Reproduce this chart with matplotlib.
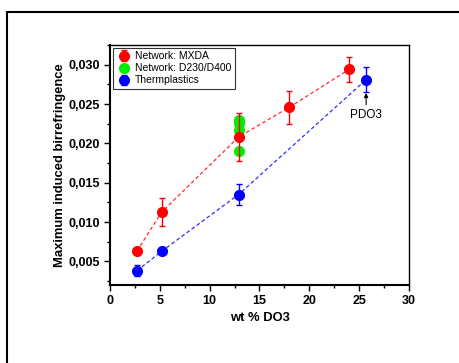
import matplotlib
matplotlib.use("Agg")
import matplotlib.pyplot as plt
from matplotlib.patches import Rectangle
from matplotlib.ticker import MultipleLocator, FuncFormatter

plt.rcParams["font.family"] = ["Liberation Sans", "DejaVu Sans"]

# Network: MXDA
mxda_x = [2.7, 5.2, 12.9, 18.0, 24.0]
mxda_y = [0.0063, 0.0113, 0.0208, 0.0246, 0.0294]
mxda_err = [0.0, 0.0018, 0.0030, 0.0021, 0.0016]

# Network: D230/D400
d230_x = [12.9, 12.9, 12.9, 12.9]
d230_y = [0.0230, 0.0226, 0.0217, 0.0190]

# Thermoplastics
termo_x = [2.7, 5.2, 12.9, 25.7]
termo_y = [0.0038, 0.0063, 0.0135, 0.0281]
termo_err = [0.0007, 0.0, 0.0013, 0.0016]

fig = plt.figure(figsize=(4.59, 3.63), dpi=100)
ax = fig.add_axes([0.2397, 0.2149, 0.6513, 0.6611])

# moldura externa
fig.patches.append(Rectangle((7, -10), 470, 363 - 12 + 10, transform=None,
                             fill=False, edgecolor="black", linewidth=1.5))

ms = 7
ax.plot(mxda_x, mxda_y, linestyle=(0, (3, 2)), color="#FF3030", linewidth=0.9, zorder=1)
ax.plot(termo_x, termo_y, linestyle=(0, (3, 2)), color="#3030FF", linewidth=0.9, zorder=1)

ax.plot(d230_x, d230_y, "o", color="#00EE00", markersize=ms, zorder=2,
        label="Network: D230/D400")
ax.errorbar(mxda_x, mxda_y, yerr=mxda_err, fmt="o", color="red", markersize=ms,
            capsize=2.5, elinewidth=1, capthick=1, zorder=3, label="Network: MXDA")
ax.errorbar(termo_x, termo_y, yerr=termo_err, fmt="o", color="blue", markersize=ms,
            capsize=2.5, elinewidth=1, capthick=1, zorder=3, label="Thermplastics")

ax.annotate("PDO3", xy=(termo_x[-1], termo_y[-1] - 0.0017),
            xytext=(termo_x[-1], termo_y[-1] - 0.0045),
            ha="center", va="center", fontsize=8.5,
            arrowprops=dict(arrowstyle="-|>", color="black", lw=0.8,
                            mutation_scale=6, shrinkA=1, shrinkB=0))

ax.set_xlim(0, 30)
ax.set_ylim(0.002, 0.0325)
ax.xaxis.set_major_locator(MultipleLocator(5))
ax.xaxis.set_minor_locator(MultipleLocator(2.5))
ax.yaxis.set_major_locator(MultipleLocator(0.005))
ax.yaxis.set_minor_locator(MultipleLocator(0.0025))
ax.yaxis.set_major_formatter(FuncFormatter(lambda v, p: f"{v:.3f}".replace(".", ",")))
ax.tick_params(which="major", direction="out", length=4, width=1, labelsize=9)
ax.tick_params(which="minor", direction="out", length=2.5, width=1)
for lbl in ax.get_xticklabels() + ax.get_yticklabels():
    lbl.set_fontweight("bold")
for s in ax.spines.values():
    s.set_linewidth(1)
ax.spines["bottom"].set_linewidth(1.5)
ax.spines["left"].set_linewidth(1.5)

ax.set_xlabel("wt % DO3", fontsize=9.4, fontweight="bold", labelpad=3)
ax.set_ylabel("Maximum induced birrefringence", fontsize=9.4, fontweight="bold", labelpad=1.5)

handles, labels = ax.get_legend_handles_labels()
ordem = [1, 0, 2]
leg = ax.legend([handles[i] for i in ordem], [labels[i] for i in ordem],
                loc="upper left", fontsize=7.5, frameon=True, fancybox=False,
                edgecolor="black", borderaxespad=0.3, handletextpad=0.3,
                labelspacing=0.2, handlelength=1.5, borderpad=0.3)
leg.get_frame().set_linewidth(0.8)

fig.savefig("out.png", dpi=100)
